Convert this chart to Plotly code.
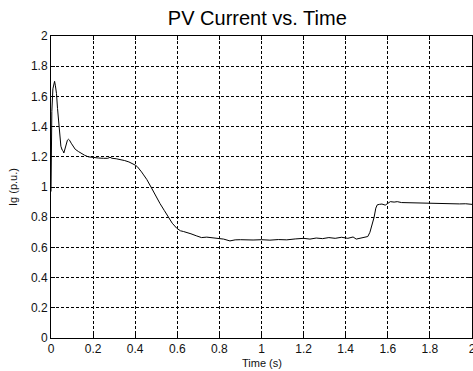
import plotly.graph_objects as go

time_s = [0.0, 0.001, 0.004, 0.009, 0.014, 0.017, 0.021, 0.026, 0.031, 0.036, 0.041, 0.047,
          0.053, 0.057, 0.061, 0.066, 0.072, 0.078, 0.083, 0.088, 0.096, 0.105, 0.115, 0.13,
          0.145, 0.16, 0.177, 0.2, 0.225, 0.25, 0.27, 0.28, 0.29, 0.31, 0.33, 0.35, 0.37, 0.385,
          0.40, 0.41, 0.42, 0.43, 0.44, 0.455, 0.475, 0.497, 0.518, 0.538, 0.558, 0.576, 0.598,
          0.615, 0.63, 0.645, 0.665, 0.69, 0.715, 0.74, 0.76, 0.79, 0.82, 0.85, 0.875, 0.9, 0.93,
          0.96, 1.0, 1.04, 1.08, 1.12, 1.16, 1.2, 1.23, 1.26, 1.29, 1.32, 1.35, 1.38, 1.41, 1.435,
          1.45, 1.47, 1.49, 1.505, 1.515, 1.525, 1.535, 1.543, 1.55, 1.56, 1.572, 1.588, 1.6,
          1.612, 1.63, 1.645, 1.665, 1.69, 1.71, 1.74, 1.77, 1.8, 1.83, 1.86, 1.9, 1.94, 1.97, 2.0]

current_pu = [0.97, 1.30, 1.50, 1.65, 1.70, 1.70, 1.67, 1.62, 1.52, 1.42, 1.33, 1.27,
              1.245, 1.24, 1.225, 1.25, 1.29, 1.31, 1.316, 1.31, 1.29, 1.27, 1.25, 1.235,
              1.22, 1.21, 1.20, 1.195, 1.192, 1.19, 1.19, 1.197, 1.19, 1.187, 1.182, 1.175, 1.166, 1.157,
              1.145, 1.135, 1.12, 1.10, 1.08, 1.05, 1.0, 0.94, 0.89, 0.845, 0.80, 0.76, 0.726,
              0.71, 0.705, 0.70, 0.69, 0.677, 0.665, 0.668, 0.665, 0.66, 0.655, 0.643, 0.65, 0.651, 0.648,
              0.649, 0.651, 0.648, 0.652, 0.65, 0.656, 0.66, 0.655, 0.662, 0.658, 0.665, 0.66, 0.667, 0.66, 0.669,
              0.655, 0.66, 0.664, 0.672, 0.70, 0.75, 0.80, 0.86, 0.882, 0.885, 0.887, 0.88, 0.892,
              0.903, 0.90, 0.903, 0.897, 0.896, 0.899, 0.893, 0.895, 0.892, 0.894, 0.89, 0.891, 0.888, 0.889, 0.885]

tick_vals = [0, 0.2, 0.4, 0.6, 0.8, 1, 1.2, 1.4, 1.6, 1.8, 2]
tick_text = ["0", "0.2", "0.4", "0.6", "0.8", "1", "1.2", "1.4", "1.6", "1.8", "2"]

FONT = "Liberation Sans, Arial, sans-serif"

fig = go.Figure()
fig.add_trace(go.Scatter(x=time_s, y=current_pu, mode="lines",
                         line=dict(color="black", width=1), showlegend=False))

axis_common = dict(
    tickvals=tick_vals, ticktext=tick_text,
    showgrid=True, gridcolor="black", gridwidth=1, griddash="3px,2px",
    zeroline=False, showline=True, linecolor="black", linewidth=1,
    mirror="ticks", ticks="inside", ticklen=4, tickcolor="black",
    tickfont=dict(family=FONT, size=12, color="#111"),
    range=[0, 2], ticklabeloverflow="allow", automargin=False,
)

fig.update_layout(
    width=473, height=371,
    margin=dict(l=51, r=1, t=36, b=33, autoexpand=False),
    paper_bgcolor="white", plot_bgcolor="white",
    title=dict(text="PV Current vs. Time", x=0.544, xanchor="center", xref="container",
               y=1 - 18 / 371, yanchor="middle", yref="container", automargin=False,
               font=dict(family=FONT, size=20, color="black")),
    xaxis=dict(**axis_common),
    yaxis=dict(**axis_common),
    annotations=[
        dict(text="Time (s)", xref="paper", yref="paper", x=0.5, y=-25 / 302,
             xanchor="center", yanchor="middle", showarrow=False,
             font=dict(family=FONT, size=11, color="#111")),
        dict(text="Ig (p.u.)", xref="paper", yref="paper", x=-38 / 421, y=0.5,
             xanchor="center", yanchor="middle", showarrow=False, textangle=-90,
             font=dict(family=FONT, size=11, color="#111")),
    ],
)

fig.write_html("out.html")
